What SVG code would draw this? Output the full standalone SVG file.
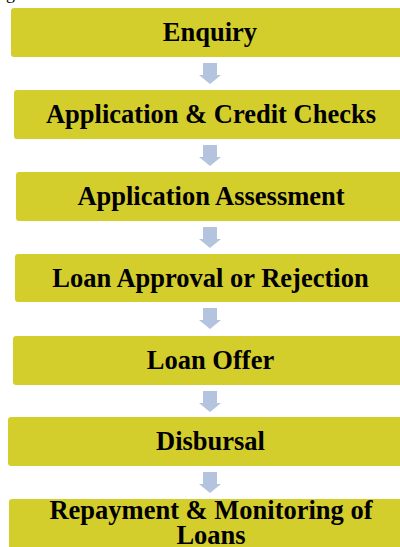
<svg xmlns="http://www.w3.org/2000/svg" width="400" height="547" viewBox="0 0 400 547">
<style>
.box{fill:#D4CE2D;}
.lbl{font-family:"Liberation Serif","Times New Roman",serif;font-weight:bold;font-size:26.5px;fill:#000;text-anchor:middle;}
.arr{fill:#B4C3DE;}
</style>
<defs>
<path id="arrow" d="M203 0 H217 V12 H221 L210 21 L199 12 H203 Z"/>
</defs>
<rect width="400" height="547" fill="#fff"/>
<text x="6" y="-1" font-family="Liberation Serif, serif" font-size="18" fill="#000">g</text>
<g id="connectors">
<use href="#arrow" class="arr" y="63"/>
<use href="#arrow" class="arr" y="145"/>
<use href="#arrow" class="arr" y="227"/>
<use href="#arrow" class="arr" y="308"/>
<use href="#arrow" class="arr" y="391"/>
<use href="#arrow" class="arr" y="472"/>
</g>
<g id="n1"><rect class="box" x="11" y="8" width="420" height="49" rx="3"/><text class="lbl" x="210" y="41">Enquiry</text></g>
<g id="n2"><rect class="box" x="14" y="90" width="420" height="49" rx="3"/><text class="lbl" x="211" y="123">Application &amp; Credit Checks</text></g>
<g id="n3"><rect class="box" x="16" y="172" width="420" height="49" rx="3"/><text class="lbl" x="211" y="205">Application Assessment</text></g>
<g id="n4"><rect class="box" x="15" y="254" width="420" height="48" rx="3"/><text class="lbl" x="210.5" y="287">Loan Approval or Rejection</text></g>
<g id="n5"><rect class="box" x="13" y="336" width="420" height="49" rx="3"/><text class="lbl" x="210.5" y="369">Loan Offer</text></g>
<g id="n6"><rect class="box" x="8" y="417" width="420" height="49" rx="3"/><text class="lbl" x="210.5" y="450">Disbursal</text></g>
<g id="n7"><rect class="box" x="9" y="499" width="420" height="60" rx="3"/><text class="lbl" x="211" y="519">Repayment &amp; Monitoring of<tspan x="211" y="544">Loans</tspan></text></g>
</svg>
